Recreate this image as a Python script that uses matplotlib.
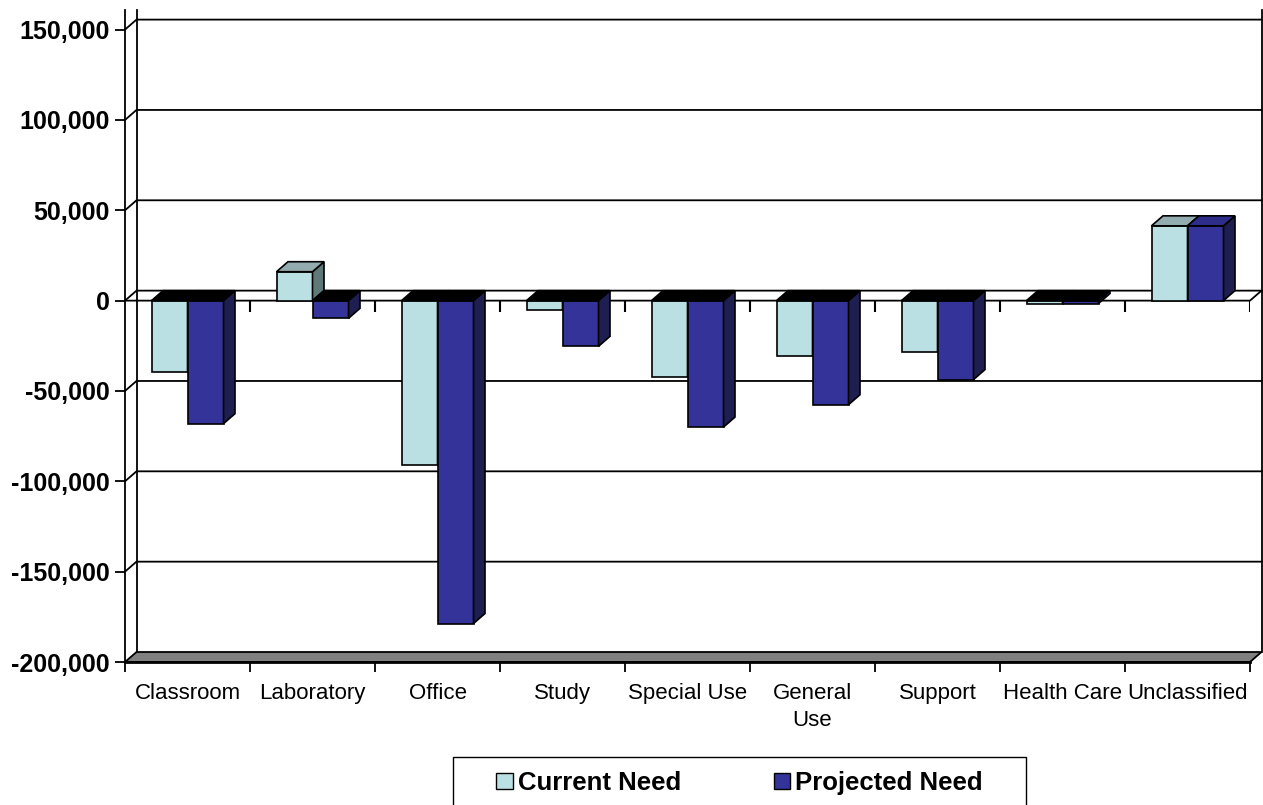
import numpy as np
import matplotlib.pyplot as plt
from matplotlib.patches import Polygon, Rectangle, Patch

plt.rcParams['font.family'] = ['Liberation Sans', 'DejaVu Sans']

categories = ['Classroom', 'Laboratory', 'Office', 'Study', 'Special Use',
              'General\nUse', 'Support', 'Health Care', 'Unclassified']
current_need = [-39600, 16000, -91000, -5000, -42300, -30800, -28600, -1600, 41400]
projected_need = [-68100, -9800, -178700, -25300, -70000, -57600, -43700, -1600, 41400]
series_names = ['Current Need', 'Projected Need']
yticks = np.arange(-200000, 150001, 50000)

# face colours: front, side, top (when the bar sits above zero)
front_cols = ['#BBE0E3', '#333399']
side_cols = ['#5F7878', '#1E1E50']
top_cols = ['#93ACB0', '#2E2E8A']

n = len(categories)
YMIN, YMAX = -200000, 150000
TOP = 161000           # wall edges run a little above the last gridline
DX, DY = 0.092, 5530   # depth offset of the back wall / bar faces
BAR_W = 0.288

fig = plt.figure(figsize=(12.63, 8.05), dpi=100)
ax = fig.add_axes([125 / 1263, 143 / 805, 1125 / 1263, 632.4 / 805])
ax.set_xlim(0, n)
ax.set_ylim(YMIN, YMAX)
ax.patch.set_visible(False)
for sp in ax.spines.values():
    sp.set_visible(False)

lw = 1.3
kw = dict(color='black', lw=lw, clip_on=False, zorder=1)

# floor
floor = Polygon([(0, YMIN), (n, YMIN), (n + DX, YMIN + DY), (DX, YMIN + DY)],
                closed=True, fc='#808080', ec='black', lw=lw, clip_on=False, zorder=1)
ax.add_patch(floor)
ax.plot([0, n], [YMIN, YMIN], color='black', lw=2, clip_on=False, zorder=1)

# walls: front axis line, back edges, gridlines with their diagonal joins
ax.plot([0, 0], [YMIN, TOP], **kw)
ax.plot([DX, DX], [YMIN + DY, TOP], **kw)
ax.plot([n + DX, n + DX], [YMIN + DY, TOP], **kw)
for v in yticks[1:]:
    ax.plot([0, DX, n + DX], [v, v + DY, v + DY], **kw)

# zero plane front edge with category ticks
ax.plot([0, n, n + DX], [0, 0, DY], **kw)
ax.vlines(np.arange(1, n + 1), -6100, 0, color='black', lw=1.5, zorder=1)

# bars: front face via ax.bar, side and top faces as polygons
for s, vals in enumerate([current_need, projected_need]):
    x0 = np.arange(n) + 0.5 - BAR_W + s * BAR_W
    ax.bar(x0, vals, BAR_W, align='edge', color=front_cols[s],
           edgecolor='black', lw=1.2, zorder=2 + s)
    for xl, v in zip(x0, vals):
        xr = xl + BAR_W
        side = Polygon([(xr, 0), (xr, v), (xr + DX, v + DY), (xr + DX, DY)],
                       closed=True, fc=side_cols[s], ec='black', lw=1.2, zorder=2 + s)
        t = max(v, 0)
        top = Polygon([(xl, t), (xr, t), (xr + DX, t + DY), (xl + DX, t + DY)],
                      closed=True, fc=top_cols[s] if v > 0 else 'black',
                      ec='black', lw=1.2, zorder=2 + s)
        ax.add_patch(side)
        ax.add_patch(top)

# axes ticks and labels
ax.set_yticks(yticks)
ax.set_yticklabels([f'{v:,}' for v in yticks], fontweight='bold', fontsize=18)
ax.tick_params(axis='y', length=7.2, width=1.3, pad=3.6)

ax.set_xticks(np.arange(n + 1))
ax.set_xticklabels([])
ax.set_xticks(np.arange(n) + 0.5, minor=True)
ax.set_xticklabels(categories, minor=True, fontsize=16, linespacing=1.4)
ax.tick_params(axis='x', which='major', length=7.2, width=1.3)
ax.tick_params(axis='x', which='minor', length=0, pad=15)

# legend
handles = [Patch(fc=front_cols[0], ec='black'), Patch(fc=front_cols[1], ec='black')]
fig.legend(handles, series_names, ncol=2, frameon=False, loc='center',
           bbox_to_anchor=(739.5 / 1263, 1 - 783 / 805),
           prop=dict(weight='bold', size=18.5), handlelength=0.65,
           handleheight=0.62, handletextpad=0.2, columnspacing=3.6)
fig.add_artist(Rectangle((453 / 1263, -0.01), 573 / 1263, 48 / 805 + 0.01,
                         transform=fig.transFigure, fill=False, ec='black', lw=1))

fig.savefig('out.png', dpi=100)
